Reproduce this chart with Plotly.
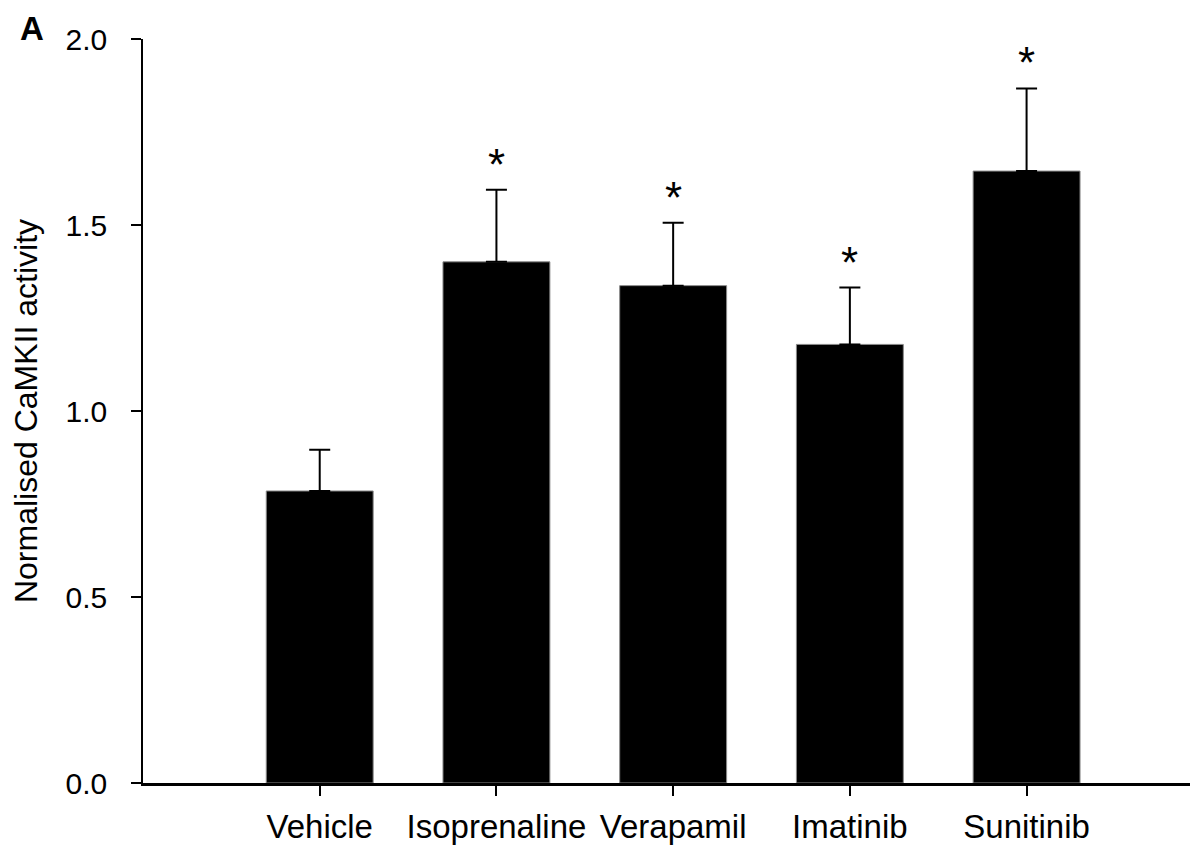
import plotly.graph_objects as go

categories = ["Vehicle", "Isoprenaline", "Verapamil", "Imatinib", "Sunitinib"]
means = [0.785, 1.401, 1.337, 1.179, 1.645]
sem = [0.111, 0.194, 0.169, 0.153, 0.222]
significant = [False, True, True, True, True]

xpos = list(range(len(categories)))
font_family = "Liberation Sans, Arial, sans-serif"

fig = go.Figure()
fig.add_trace(go.Bar(
    x=xpos, y=means, width=0.605,
    marker=dict(color="black", line=dict(color="#8a8a8a", width=1)),
    error_y=dict(type="data", symmetric=False, array=sem,
                 arrayminus=[0] * len(sem), color="black",
                 thickness=2, width=10.5),
    showlegend=False,
))

for x, m, e, s in zip(xpos, means, sem, significant):
    if s:
        fig.add_annotation(x=x, y=m + e, text="*", showarrow=False,
                           xref="x", yref="y", yanchor="bottom", yshift=-1,
                           font=dict(family=font_family, size=44, color="black"))

fig.add_annotation(x=-0.105, y=1.0144, xref="paper", yref="paper", text="<b>A</b>",
                   showarrow=False, xanchor="center", yanchor="middle",
                   font=dict(family=font_family, size=33, color="black"))

fig.update_layout(
    width=1190, height=839,
    margin=dict(l=135, r=0, t=31, b=63.5),
    plot_bgcolor="white", paper_bgcolor="white",
    font=dict(family=font_family, size=30, color="black"),
)
fig.update_xaxes(
    range=[-1, 4.97], tickvals=xpos, ticktext=categories,
    showline=True, linecolor="black", linewidth=2.5,
    ticks="outside", ticklen=10, tickwidth=1.5, tickcolor="black",
    showgrid=False, zeroline=False, ticklabelstandoff=3,
    tickfont=dict(size=33), automargin=False,
)
fig.update_yaxes(
    range=[0, 2.0], tickvals=[0, 0.5, 1.0, 1.5, 2.0],
    ticktext=["0.0", "0.5", "1.0", "1.5", "2.0"],
    showline=True, linecolor="black", linewidth=1.5,
    ticks="outside", ticklen=10, tickwidth=1.5, tickcolor="black",
    showgrid=False, zeroline=False, ticklabelstandoff=18,
    tickfont=dict(size=30), automargin=False,
    title=dict(text="Normalised CaMKII activity", font=dict(size=32), standoff=25),
)
fig.write_html("out.html")
